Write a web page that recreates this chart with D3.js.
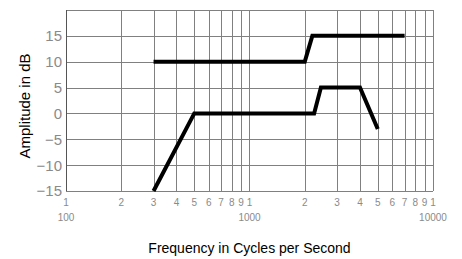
<!DOCTYPE html>
<html>
<head>
<meta charset="utf-8">
<script src="https://cdn.jsdelivr.net/npm/d3@7"></script>
<style>
  body{margin:0;background:#fff}
  svg{display:block}
</style>
</head>
<body>
<script>
// response curves, frequency in Hz and amplitude in dB
var upperFreq=[300,2000,2200,7000]
var upperDb=[10,10,15,15]
var lowerFreq=[300,500,2250,2450,4000,5000]
var lowerDb=[-15,0,0,5,5,-3]
var yTicks=[-15,-10,-5,0,5,10,15]
var xDomain=[100,10000]
var yDomain=[-15,20]

var screen={width:462,height:259}
var margins={top:10,right:29,bottom:68,left:66}
var width=screen.width-margins.left-margins.right
var height=screen.height-margins.top-margins.bottom

var xScale=d3.scaleLog().domain(xDomain).range([0,width])
var yScale=d3.scaleLinear().domain(yDomain).range([height,0])

var svg=d3.select("body").append("svg")
          .attr("width",screen.width)
          .attr("height",screen.height)
var g=svg.append("g")
         .attr("transform","translate("+margins.left+","+margins.top+")")

var px=function(v){return Math.round(v)+0.5}
var xTicks=xScale.ticks()

//grid
g.selectAll(".vgrid").data(xTicks).enter().append("line")
 .attr("x1",function(d){return px(xScale(d))})
 .attr("x2",function(d){return px(xScale(d))})
 .attr("y1",0).attr("y2",height)
 .attr("stroke","#808080").attr("stroke-width",1)
g.selectAll(".hgrid").data(yScale.ticks(7)).enter().append("line")
 .attr("y1",function(d){return px(yScale(d))})
 .attr("y2",function(d){return px(yScale(d))})
 .attr("x1",0).attr("x2",width)
 .attr("stroke","#808080").attr("stroke-width",1)
g.append("line").attr("x1",0.5).attr("x2",0.5).attr("y1",0).attr("y2",height)
 .attr("stroke","#555")

//y labels
g.selectAll(".ylab").data(yTicks).enter().append("text")
 .attr("x",-4)
 .attr("y",function(d){return yScale(d)})
 .attr("dy","0.36em")
 .attr("text-anchor","end")
 .attr("font-family","Liberation Sans, Arial, sans-serif")
 .attr("font-size",15)
 .attr("fill","#8a8a8a")
 .text(function(d){return d<0?"\u2212"+(-d):d})

//x labels
var lead=function(d){return Math.round(d/Math.pow(10,Math.floor(Math.log10(d)+1e-9)))}
g.selectAll(".xlab").data(xTicks).enter().append("text")
 .attr("x",function(d){return xScale(d)})
 .attr("y",height+15)
 .attr("text-anchor","middle")
 .attr("font-family","Liberation Sans, Arial, sans-serif")
 .attr("font-size",10)
 .attr("fill","#8a8a8a")
 .text(lead)
g.selectAll(".xdec").data(xTicks.filter(function(d){return lead(d)==1})).enter().append("text")
 .attr("x",function(d){return xScale(d)})
 .attr("y",height+30)
 .attr("text-anchor","middle")
 .attr("font-family","Liberation Sans, Arial, sans-serif")
 .attr("font-size",10)
 .attr("fill","#8a8a8a")
 .text(function(d){return d})

//curves
var drawLine=d3.line()
  .x(function(d){return xScale(d[0])})
  .y(function(d){return yScale(d[1])})
g.append("path").datum(d3.zip(upperFreq,upperDb))
 .attr("d",drawLine).attr("fill","none")
 .attr("stroke","#000").attr("stroke-width",4)
g.append("path").datum(d3.zip(lowerFreq,lowerDb))
 .attr("d",drawLine).attr("fill","none")
 .attr("stroke","#000").attr("stroke-width",4)

//titles
svg.append("text")
   .attr("transform","translate(30,106) rotate(-90)")
   .attr("text-anchor","middle")
   .attr("font-family","Liberation Sans, Arial, sans-serif")
   .attr("font-size",15)
   .text("Amplitude in dB")
svg.append("text")
   .attr("x",margins.left+width/2)
   .attr("y",253)
   .attr("text-anchor","middle")
   .attr("font-family","Liberation Sans, Arial, sans-serif")
   .attr("font-size",14)
   .text("Frequency in Cycles per Second")
</script>
</body>
</html>
